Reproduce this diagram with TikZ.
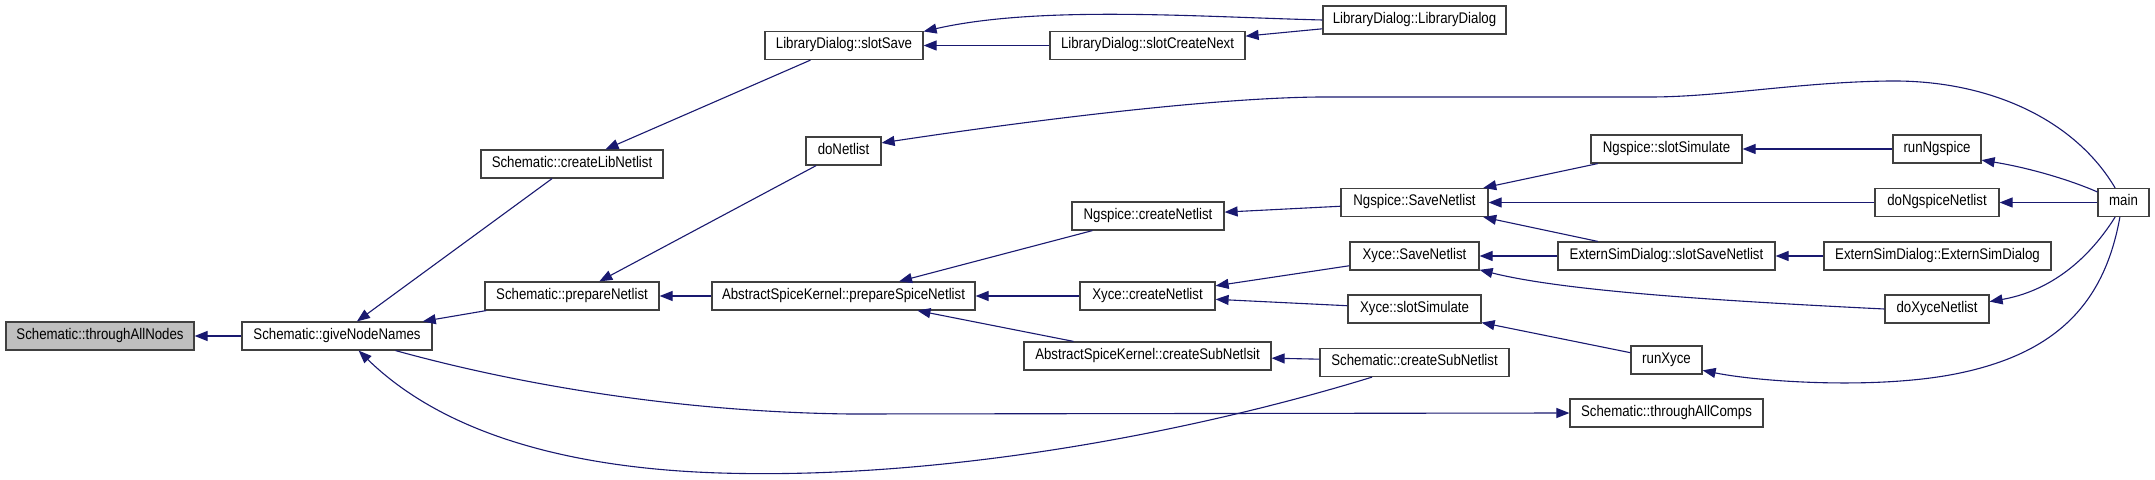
\documentclass[tikz,border=0pt]{standalone}
\usepackage{fontspec}
\setmainfont{Liberation Sans}[FakeStretch=0.86]
\usetikzlibrary{arrows.meta}
\definecolor{edgec}{HTML}{191970}
\definecolor{boxc}{HTML}{404040}
\definecolor{grayfill}{HTML}{BFBFBF}
\begin{document}
\begin{tikzpicture}[x=0.5pt,y=-0.5pt,
  fn/.style={draw=boxc, line width=0.6pt, fill=white, inner sep=0pt, minimum height=14pt,
    text height=5.2pt, text depth=1.8pt, font=\fontsize{7.7}{9}\selectfont},
  edge/.style={draw=edgec, line width=0.55pt, -{Triangle[length=6.5pt,width=5pt]}}]
\useasboundingbox[fill=white] (0,0) rectangle (2155,480);

\node[fn, fill=grayfill, minimum width=94pt] (tan) at (100,336) {Schematic::throughAllNodes};
\node[fn, minimum width=95pt] (gnn) at (337,336) {Schematic::giveNodeNames};
\node[fn, minimum width=91pt] (cln) at (572,164) {Schematic::createLibNetlist};
\node[fn, minimum width=87pt] (pn) at (572,296) {Schematic::prepareNetlist};
\node[fn, minimum width=79pt] (ss) at (844,45.5) {LibraryDialog::slotSave};
\node[fn, minimum width=37.5pt] (dn) at (843.5,151) {doNetlist};
\node[fn, minimum width=131.5pt] (psn) at (843.5,296) {AbstractSpiceKernel::prepareSpiceNetlist};
\node[fn, minimum width=97.5pt] (scn) at (1147.5,45.5) {LibraryDialog::slotCreateNext};
\node[fn, minimum width=91.5pt] (ld) at (1414.5,20) {LibraryDialog::LibraryDialog};
\node[fn, minimum width=76pt] (ncn) at (1148,216) {Ngspice::createNetlist};
\node[fn, minimum width=67.5pt] (xcn) at (1147.5,296) {Xyce::createNetlist};
\node[fn, minimum width=123.5pt] (asn) at (1147.5,356) {AbstractSpiceKernel::createSubNetlsit};
\node[fn, minimum width=73.5pt] (nsn) at (1414.5,202.5) {Ngspice::SaveNetlist};
\node[fn, minimum width=64.5pt] (xsn) at (1414.5,256) {Xyce::SaveNetlist};
\node[fn, minimum width=66.5pt] (xss) at (1414.5,309) {Xyce::slotSimulate};
\node[fn, minimum width=94.5pt] (scsn) at (1414.5,362.5) {Schematic::createSubNetlist};
\node[fn, minimum width=75.5pt] (nss) at (1666.5,149) {Ngspice::slotSimulate};
\node[fn, minimum width=108.5pt] (essn) at (1666.5,256) {ExternSimDialog::slotSaveNetlist};
\node[fn, minimum width=35.5pt] (rx) at (1666.5,360) {runXyce};
\node[fn, minimum width=96.5pt] (tac) at (1666.5,413) {Schematic::throughAllComps};
\node[fn, minimum width=44pt] (rn) at (1937,149) {runNgspice};
\node[fn, minimum width=62pt] (dnn) at (1937,202.5) {doNgspiceNetlist};
\node[fn, minimum width=113.5pt] (esd) at (1937.5,256) {ExternSimDialog::ExternSimDialog};
\node[fn, minimum width=52pt] (dxn) at (1937,309) {doXyceNetlist};
\node[fn, minimum width=25.5pt] (main) at (2123.5,202.5) {main};

\draw[edge] (gnn) -- (tan);
\draw[edge] (cln) -- (gnn);
\draw[edge] (pn) -- (gnn);
\draw[edge] (ss) -- (cln);
\draw[edge] (dn) -- (pn);
\draw[edge] (psn) -- (pn);
\draw[edge] (scn) -- (ss);
\draw[edge] (ld) -- (scn);
\draw[edge] (ld.west) .. controls (1200,17) and (1040,5) .. (ss.10);
\draw[edge] (ncn) -- (psn);
\draw[edge] (xcn) -- (psn);
\draw[edge] (asn) -- (psn);
\draw[edge] (nsn) -- (ncn);
\draw[edge] (xsn) -- (xcn);
\draw[edge] (xss) -- (xcn);
\draw[edge] (scsn.178.5) -- (asn.-1.9);
\draw[edge] (nss) -- (nsn);
\draw[edge] (dnn) -- (nsn);
\draw[edge] (essn) -- (nsn);
\draw[edge] (essn) -- (xsn);
\draw[edge] (dxn.west) .. controls (1700,300) and (1560,290) .. (xsn.-12);
\draw[edge] (rx) -- (xss);
\draw[edge] (rn) -- (nss);
\draw[edge] (esd) -- (essn);
\draw[edge] (main) -- (dnn);
\draw[edge] (main.158) .. controls (2070,180) and (2030,168) .. (rn.-14);
\draw[edge] (main.-120) .. controls (2085,265) and (2045,292) .. (dxn.8);
\draw[edge] (main.-104) .. controls (2105,300) and (2060,352) .. (1960,373)
   .. controls (1880,390) and (1760,382) .. (rx.-16);
\draw[edge] (main.120) .. controls (2075,120) and (1990,80) .. (1890,81)
   .. controls (1800,82) and (1720,97) .. (1650,97) -- (1320,97)
   .. controls (1200,98) and (1000,125) .. (dn.12);
\draw[edge] (gnn.-14) .. controls (520,385) and (680,412) .. (850,414) -- (tac.west);
\draw[edge] (scsn.-161) .. controls (1200,430) and (950,480) .. (720,473)
   .. controls (560,468) and (440,430) .. (gnn.-34);
\end{tikzpicture}
\end{document}
